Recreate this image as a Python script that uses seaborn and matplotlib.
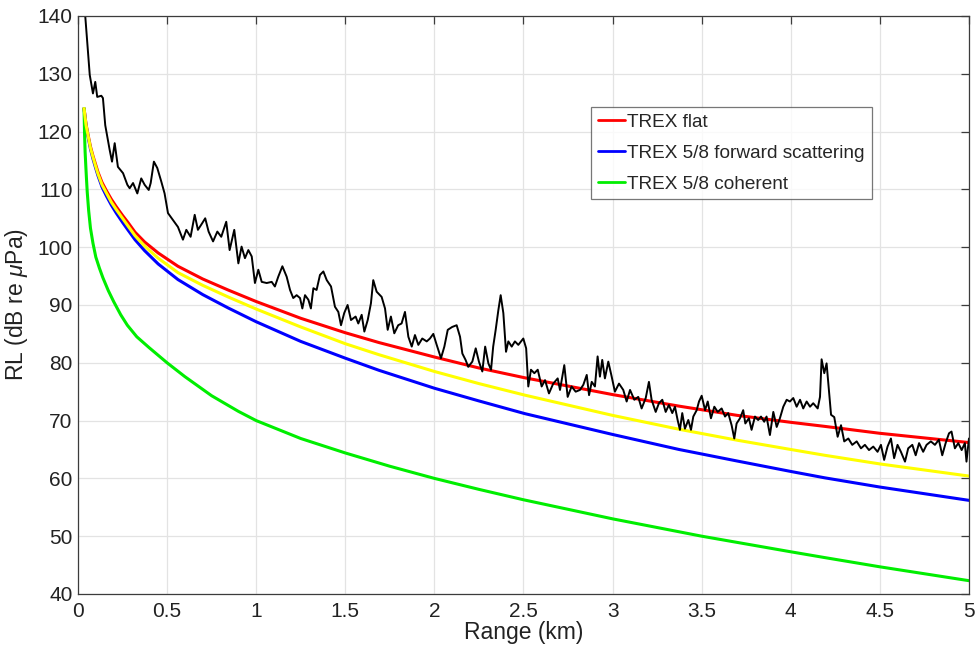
import numpy as np
import pandas as pd
import matplotlib
matplotlib.use("Agg")
import matplotlib.pyplot as plt
import seaborn as sns
from matplotlib.lines import Line2D

# ---------------- data ----------------
model_range = [0.034, 0.045, 0.056, 0.07, 0.084, 0.1, 0.112, 0.135, 0.159, 0.187,
               0.215, 0.25, 0.28, 0.32, 0.374, 0.45, 0.561, 0.7, 0.842, 1.0,
               1.25, 1.5, 1.689, 2.0, 2.25, 2.508, 3.0, 3.373, 3.7, 4.0,
               4.19, 4.5, 5.0]
trex_flat = [124.0, 121.3, 119.5, 117.4, 115.8, 114.2, 113.0, 111.2, 109.8, 108.3,
             107.0, 105.5, 104.3, 102.6, 100.9, 99.0, 96.7, 94.5, 92.6, 90.6,
             87.7, 85.2, 83.5, 81.0, 79.1, 77.4, 74.5, 72.5, 70.9, 69.7,
             69.0, 67.8, 66.2]
trex_fwd = [124.0, 121.1, 119.2, 117.0, 115.3, 113.6, 112.4, 110.4, 108.9, 107.3,
            105.9, 104.3, 103.0, 101.3, 99.4, 97.1, 94.4, 91.8, 89.5, 87.1,
            83.7, 80.8, 78.7, 75.6, 73.4, 71.2, 67.6, 65.0, 63.0, 61.2,
            60.1, 58.5, 56.2]
trex_yellow = [124.0, 121.2, 119.4, 117.2, 115.6, 113.9, 112.7, 110.8, 109.4, 107.8,
               106.5, 105.0, 103.7, 102.0, 100.2, 98.1, 95.6, 93.4, 91.4, 89.3,
               86.2, 83.3, 81.4, 78.5, 76.4, 74.4, 70.9, 68.5, 66.6, 65.0,
               64.0, 62.5, 60.4]

coh_range = [0.034, 0.037, 0.04, 0.044, 0.047, 0.052, 0.06, 0.07, 0.084, 0.1,
             0.12, 0.14, 0.17, 0.2, 0.24, 0.277, 0.33, 0.4, 0.5, 0.6,
             0.75, 0.9, 1.0, 1.25, 1.5, 1.75, 2.0, 2.25, 2.5, 3.0, 3.5,
             4.0, 4.19, 4.5, 5.0]
trex_coh = [124.0, 119.5, 116.5, 114.0, 112.2, 109.5, 106.3, 103.3, 100.7, 98.3,
            96.4, 94.7, 92.5, 90.6, 88.3, 86.5, 84.5, 82.6, 80.0, 77.6,
            74.3, 71.6, 70.0, 66.9, 64.4, 62.1, 60.0, 58.1, 56.3, 53.0, 50.0,
            47.3, 46.3, 44.7, 42.3]

meas_range = [0.041, 0.066, 0.084, 0.097, 0.108, 0.131, 0.140, 0.153, 0.178, 0.191,
              0.206, 0.224, 0.253, 0.277, 0.290, 0.309, 0.333, 0.355, 0.374, 0.397,
              0.408, 0.426, 0.445, 0.468, 0.486, 0.505, 0.533, 0.561, 0.589, 0.608,
              0.632, 0.655, 0.673, 0.696, 0.714, 0.733, 0.758, 0.782, 0.804, 0.832,
              0.851, 0.877, 0.900, 0.918, 0.937, 0.956, 0.975, 0.993, 1.012, 1.031,
              1.059, 1.087, 1.105, 1.124, 1.147, 1.171, 1.190, 1.208, 1.227, 1.246,
              1.259, 1.274, 1.293, 1.307, 1.321, 1.339, 1.358, 1.377, 1.396, 1.420,
              1.442, 1.461, 1.476, 1.494, 1.513, 1.532, 1.558, 1.573, 1.592, 1.607,
              1.626, 1.644, 1.657, 1.676, 1.704, 1.723, 1.738, 1.756, 1.775, 1.797,
              1.816, 1.835, 1.854, 1.873, 1.891, 1.910, 1.932, 1.957, 1.975, 1.994,
              2.013, 2.037, 2.056, 2.075, 2.100, 2.125, 2.144, 2.157, 2.175, 2.190,
              2.213, 2.232, 2.250, 2.269, 2.285, 2.303, 2.318, 2.330, 2.344, 2.359,
              2.372, 2.387, 2.402, 2.415, 2.434, 2.452, 2.471, 2.499, 2.515, 2.527,
              2.542, 2.561, 2.580, 2.602, 2.621, 2.643, 2.667, 2.692, 2.705, 2.729,
              2.748, 2.770, 2.793, 2.817, 2.836, 2.855, 2.868, 2.883, 2.901, 2.916,
              2.929, 2.942, 2.957, 2.976, 2.995, 3.013, 3.036, 3.060, 3.079, 3.098,
              3.122, 3.144, 3.163, 3.186, 3.204, 3.219, 3.242, 3.260, 3.279, 3.298,
              3.316, 3.335, 3.350, 3.365, 3.378, 3.391, 3.406, 3.425, 3.440, 3.453,
              3.472, 3.485, 3.500, 3.519, 3.534, 3.552, 3.571, 3.590, 3.612, 3.631,
              3.649, 3.668, 3.683, 3.696, 3.715, 3.733, 3.745, 3.765, 3.780, 3.799,
              3.817, 3.833, 3.851, 3.864, 3.883, 3.902, 3.921, 3.939, 3.958, 3.977,
              3.995, 4.014, 4.033, 4.052, 4.070, 4.089, 4.108, 4.126, 4.151, 4.164,
              4.173, 4.188, 4.201, 4.214, 4.226, 4.244, 4.263, 4.282, 4.300, 4.323,
              4.345, 4.370, 4.394, 4.416, 4.439, 4.463, 4.487, 4.506, 4.524, 4.543,
              4.562, 4.580, 4.599, 4.618, 4.641, 4.659, 4.682, 4.701, 4.720, 4.743,
              4.762, 4.786, 4.809, 4.831, 4.850, 4.869, 4.888, 4.902, 4.921, 4.940,
              4.959, 4.977, 4.986, 5.000]
meas_rl = [139.9, 129.8, 126.6, 128.6, 126.0, 126.2, 125.8, 121.1, 116.8, 114.8,
           118.0, 113.9, 112.8, 110.8, 110.2, 111.1, 109.3, 111.9, 110.8, 109.9,
           111.1, 114.8, 113.7, 111.3, 109.3, 105.9, 104.7, 103.5, 101.3, 103.0,
           101.8, 105.6, 103.0, 104.1, 105.0, 102.7, 101.0, 102.7, 101.8, 104.4,
           99.5, 103.0, 97.2, 100.1, 98.1, 99.5, 98.4, 93.8, 96.1, 94.0,
           93.8, 94.0, 93.2, 94.9, 96.7, 94.9, 92.6, 91.2, 91.7, 91.2,
           89.4, 91.7, 90.9, 89.4, 92.9, 92.6, 95.2, 95.8, 94.3, 93.2,
           89.7, 88.8, 86.5, 88.6, 90.0, 87.4, 88.0, 86.8, 88.3, 85.4,
           87.4, 90.3, 94.3, 92.3, 91.4, 89.4, 85.7, 88.0, 85.1, 86.5,
           86.8, 88.8, 84.5, 82.8, 84.8, 83.1, 84.2, 83.7, 84.2, 85.0,
           83.1, 80.8, 82.8, 85.7, 86.2, 86.5, 84.5, 81.6, 80.5, 79.3,
           80.2, 82.5, 80.2, 78.5, 82.8, 79.9, 78.8, 82.8, 85.7, 89.1,
           91.7, 88.6, 81.9, 83.7, 82.8, 83.7, 83.1, 84.2, 82.5, 75.9,
           78.8, 78.2, 78.8, 75.9, 77.0, 74.7, 76.4, 77.3, 75.3, 79.6,
           74.1, 75.9, 75.0, 75.3, 76.2, 77.9, 74.4, 76.7, 75.9, 81.1,
           77.6, 80.5, 77.3, 80.2, 77.6, 75.0, 76.4, 75.3, 73.3, 75.3,
           73.6, 74.1, 72.1, 73.9, 76.7, 73.6, 71.5, 73.0, 73.6, 71.5,
           72.7, 71.3, 72.4, 70.1, 68.4, 71.3, 68.6, 70.1, 68.4, 70.7,
           71.8, 73.3, 74.3, 71.8, 73.3, 70.4, 72.4, 71.5, 72.1, 70.7,
           71.3, 69.2, 66.9, 69.5, 70.4, 71.8, 69.5, 70.4, 68.4, 70.7,
           70.1, 70.7, 69.8, 70.7, 67.5, 71.5, 68.9, 70.4, 72.4, 73.6,
           73.3, 73.9, 72.4, 73.6, 72.1, 73.3, 72.4, 73.0, 72.1, 74.1,
           80.6, 78.2, 79.9, 75.3, 71.0, 70.6, 67.2, 69.2, 66.4, 66.9,
           65.8, 66.4, 65.2, 65.8, 64.9, 65.5, 64.6, 65.8, 63.2, 65.5,
           66.9, 63.5, 65.8, 64.6, 62.9, 65.2, 65.8, 64.0, 66.1, 64.6,
           65.8, 66.4, 65.8, 66.7, 64.0, 66.1, 67.8, 68.1, 65.2, 66.1,
           64.9, 66.1, 62.9, 66.9]

legend_labels = ["TREX flat", "TREX 5/8 forward scattering", "TREX 5/8 coherent"]
x_ticks = [0, 0.5, 1, 1.5, 2, 2.5, 3, 3.5, 4, 4.5, 5]
y_ticks = [40, 50, 60, 70, 80, 90, 100, 110, 120, 130, 140]

# ---------------- style ----------------
sns.set_theme(style="white")
plt.rcParams["font.family"] = ["Liberation Sans", "DejaVu Sans"]
plt.rcParams["mathtext.fontset"] = "custom"
plt.rcParams["mathtext.it"] = "Liberation Sans:italic"
plt.rcParams["mathtext.rm"] = "Liberation Sans"

RED, BLUE, GREEN, YELLOW = "#ff0000", "#0000ff", "#00ee00", "#ffff00"

fig = plt.figure(figsize=(9.76, 6.45), dpi=100)
ax = fig.add_axes([0.0799, 0.0791, 0.9129, 0.8961])

df_model = pd.DataFrame({"r": model_range, "flat": trex_flat,
                         "fwd": trex_fwd, "yel": trex_yellow})
df_coh = pd.DataFrame({"r": coh_range, "coh": trex_coh})
df_meas = pd.DataFrame({"r": meas_range, "rl": meas_rl})

kw = dict(estimator=None, sort=False, ax=ax)
sns.lineplot(data=df_model, x="r", y="flat", color=RED, lw=2.2, **kw)
sns.lineplot(data=df_model, x="r", y="fwd", color=BLUE, lw=2.2, **kw)
sns.lineplot(data=df_coh, x="r", y="coh", color=GREEN, lw=2.2, **kw)
sns.lineplot(data=df_model, x="r", y="yel", color=YELLOW, lw=2.2, **kw)
sns.lineplot(data=df_meas, x="r", y="rl", color="black", lw=1.4, **kw)

ax.set_xlim(0, 5)
ax.set_ylim(40, 140)
ax.set_xticks(x_ticks)
ax.set_xticklabels([f"{t:g}" for t in x_ticks])
ax.set_yticks(y_ticks)
ax.set_yticklabels([str(t) for t in y_ticks])
ax.grid(True, color="#e3e3e3", lw=0.9)
ax.set_axisbelow(True)
for s in ax.spines.values():
    s.set_color("#3c3c3c")
    s.set_linewidth(0.9)
ax.tick_params(axis="both", which="both", direction="in", length=6,
               width=0.9, color="#3c3c3c", top=True, right=True,
               labelsize=15, pad=4, labelcolor="#222222")
ax.tick_params(axis="x", pad=6)

ax.set_xlabel("Range (km)", fontsize=16.5, color="#222222", labelpad=0)
ax.set_ylabel(r"RL (dB re $\mu$Pa)", fontsize=16.5, color="#222222", labelpad=5)

handles = [Line2D([], [], color=c, lw=2) for c in (RED, BLUE, GREEN)]
leg = ax.legend(handles, legend_labels, loc="upper left",
                bbox_to_anchor=(0.576, 0.843), borderaxespad=0,
                fontsize=13.7, frameon=True, fancybox=False,
                handlelength=1.45, handletextpad=0.1, labelspacing=0.72,
                borderpad=0.35)
leg.get_frame().set_edgecolor("#555555")
leg.get_frame().set_linewidth(0.9)

fig.savefig("out.png", dpi=100)
